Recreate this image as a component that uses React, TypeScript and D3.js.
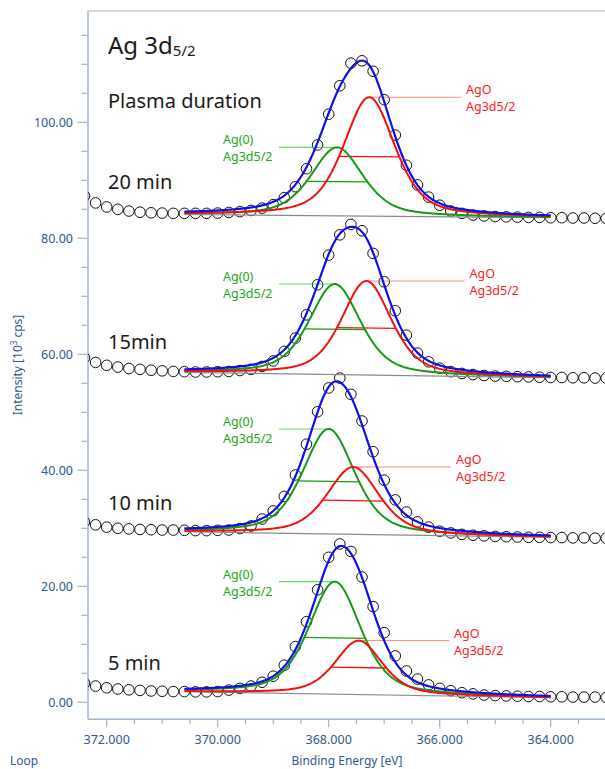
import React from 'react';
import * as d3 from 'd3';

// ---- data ----
const energies = [
  372.4, 372.2, 372.0, 371.8, 371.6, 371.4, 371.2, 371.0, 370.8, 370.6,
  370.4, 370.2, 370.0, 369.8, 369.6, 369.4, 369.2, 369.0, 368.8, 368.6,
  368.4, 368.2, 368.0, 367.8, 367.6, 367.4, 367.2, 367.0, 366.8, 366.6,
  366.4, 366.2, 366.0, 365.8, 365.6, 365.4, 365.2, 365.0, 364.8, 364.6,
  364.4, 364.2, 364.0, 363.8, 363.6, 363.4, 363.2, 363.0,
];

const counts20min = [
  87.3, 86.1, 85.4, 85.0, 84.7, 84.5, 84.4, 84.35, 84.3, 84.3,
  84.3, 84.3, 84.35, 84.45, 84.6, 84.8, 85.2, 85.8, 87.0, 88.9,
  92.0, 96.1, 101.4, 106.3, 110.2, 110.6, 108.8, 103.9, 97.8, 92.6,
  89.2, 87.1, 85.7, 84.7, 84.3, 84.0, 83.85, 83.75, 83.7, 83.65,
  83.6, 83.6, 83.55, 83.55, 83.5, 83.5, 83.45, 83.45,
];
const counts15min = [
  59.4, 58.6, 58.1, 57.8, 57.55, 57.4, 57.25, 57.15, 57.05, 57.0,
  56.95, 56.95, 57.0, 57.05, 57.2, 57.4, 57.9, 58.85, 60.5, 62.8,
  66.8, 72.0, 77.1, 80.6, 82.4, 81.3, 77.4, 72.5, 67.5, 63.3,
  60.2, 58.7, 57.6, 57.0, 56.7, 56.5, 56.35, 56.25, 56.2, 56.15,
  56.1, 56.05, 56.0, 56.0, 55.95, 55.95, 55.9, 55.9,
];
const counts10min = [
  31.1, 30.6, 30.2, 30.0, 29.9, 29.8, 29.75, 29.7, 29.7, 29.65,
  29.6, 29.6, 29.65, 29.7, 29.95, 30.4, 31.6, 33.0, 35.5, 39.2,
  44.5, 50.1, 54.2, 55.9, 53.1, 48.5, 43.2, 38.3, 34.9, 32.8,
  31.1, 30.2, 29.5, 29.2, 28.95, 28.8, 28.7, 28.6, 28.55, 28.5,
  28.45, 28.45, 28.4, 28.4, 28.35, 28.35, 28.3, 28.3,
];
const counts5min = [
  3.3, 2.8, 2.5, 2.3, 2.15, 2.05, 1.95, 1.9, 1.85, 1.85,
  1.8, 1.8, 1.85, 2.1, 2.4, 2.8, 3.45, 4.5, 6.4, 9.6,
  13.9, 19.4, 25.0, 27.3, 26.0, 21.6, 16.5, 12.0, 8.0, 5.4,
  4.0, 3.0, 2.4, 2.0, 1.65, 1.45, 1.25, 1.15, 1.1, 1.05,
  1.0, 1.0, 0.95, 0.95, 0.9, 0.9, 0.9, 0.85,
];
const spectraCounts = [counts20min, counts15min, counts10min, counts5min];
const durationLabels = ['20 min', '15min', '10 min', '5 min'];

const fitRange = [370.6, 364.0];
const bgStart = [84.1, 56.9, 29.41, 1.83];
const bgEnd = [83.55, 55.97, 28.45, 0.8];

const ag0Center = [367.85, 367.89, 368.0, 367.89];
const ag0Height = [11.8, 15.6, 18.1, 19.4];
const ag0Fwhm = [1.1, 1.09, 1.1, 1.1];

const agoCenter = [367.27, 367.32, 367.56, 367.46];
const agoHeight = [20.5, 16.2, 11.6, 9.3];
const agoFwhm = [1.09, 1.06, 1.1, 1.0];

const yMajorTicks = [0, 20, 40, 60, 80, 100];
const yMinorTicks = [5, 10, 15, 25, 30, 35, 45, 50, 55, 65, 70, 75, 85, 90, 95, 105, 110, 115];
const xMajorTicks = [372, 370, 368, 366, 364];
const xMinorTicks = [371.5, 371, 370.5, 369.5, 369, 368.5, 367.5, 367, 366.5, 365.5, 365, 364.5, 363.5];

// ---- layout ----
const W = 605;
const H = 769;
const plotLeft = 88;
const plotTop = 11;
const plotBottom = 719.3;
const x = d3.scaleLinear().domain([372, 364]).range([106.7, 550.7]);
const y = d3.scaleLinear().domain([0, 100]).range([702.3, 122.3]);

const ag0LabelX = 223;
const agoLabelX = [466, 469.5, 456, 454];
const durationOffset = [26, 23, 22, 22];

const axisColor = '#9fb3cc';
const tickTextColor = '#2f5a8a';
const blue = '#1010e6';
const red = '#f51010';
const green = '#179a17';
const greenText = '#20a820';
const redText = '#ff2020';
const font = '"Noto Sans", "Open Sans", sans-serif';

function peak(E: number, c: number, h: number, f: number) {
  const d = (E - c) / f;
  const u = 4 * d * d;
  return h * (0.5 * Math.exp(-Math.LN2 * u) + 0.5 / (1 + u));
}
function bg(E: number, i: number) {
  const t = (fitRange[0] - E) / (fitRange[0] - fitRange[1]);
  return bgStart[i] + (bgEnd[i] - bgStart[i]) * t;
}

const sampleE = d3.range(0, 331).map((j) => fitRange[0] - j * 0.02);

export default function App() {
  const lineE = (fn: (E: number) => number) =>
    d3.line<number>().x((E) => x(E)).y((E) => y(fn(E)))(sampleE) || '';

  return (
    <div style={{ position: 'absolute', left: 0, top: 0, width: W, height: H, background: '#fff' }}>
      <svg width={W} height={H} style={{ display: 'block' }}>
        <defs>
          <clipPath id="plotClip">
            <rect x={plotLeft} y={plotTop} width={W - plotLeft + 10} height={plotBottom - plotTop} />
          </clipPath>
        </defs>

        {/* frame */}
        <line x1={plotLeft} x2={W} y1={plotTop} y2={plotTop} stroke={axisColor} strokeWidth={1.2} />
        <line x1={plotLeft} x2={plotLeft} y1={plotTop} y2={plotBottom} stroke={axisColor} strokeWidth={1.5} />
        <line x1={plotLeft} x2={W} y1={plotBottom} y2={plotBottom} stroke={axisColor} strokeWidth={1.5} />

        {/* y ticks */}
        {yMajorTicks.map((v) => (
          <g key={'ym' + v}>
            <line x1={77.5} x2={87} y1={y(v)} y2={y(v)} stroke={axisColor} strokeWidth={1.2} />
            <text x={73} y={y(v) + 4.5} textAnchor="end" fontSize={12.5} fill={tickTextColor} fontFamily={font}>
              {v.toFixed(2)}
            </text>
          </g>
        ))}
        {yMinorTicks.map((v) => (
          <line key={'yn' + v} x1={81.5} x2={87} y1={y(v)} y2={y(v)} stroke={axisColor} strokeWidth={1.2} />
        ))}

        {/* x ticks */}
        {xMajorTicks.map((v) => (
          <g key={'xm' + v}>
            <line x1={x(v)} x2={x(v)} y1={plotBottom} y2={plotBottom + 8} stroke={axisColor} strokeWidth={1.2} />
            <text x={x(v)} y={744} textAnchor="middle" fontSize={12.5} fill={tickTextColor} fontFamily={font}>
              {v.toFixed(3)}
            </text>
          </g>
        ))}
        {xMinorTicks.map((v) => (
          <line key={'xn' + v} x1={x(v)} x2={x(v)} y1={plotBottom} y2={plotBottom + 5} stroke={axisColor} strokeWidth={1.2} />
        ))}

        {/* axis titles */}
        <text x={347} y={765} textAnchor="middle" fontSize={12} fill={tickTextColor} fontFamily={font}>
          Binding Energy [eV]
        </text>
        <text x={10} y={765} fontSize={12} fill={tickTextColor} fontFamily={font}>
          Loop
        </text>
        <text
          transform={`translate(22, 365) rotate(-90)`}
          textAnchor="middle"
          fontSize={12}
          fill={tickTextColor}
          fontFamily={font}
        >
          Intensity [10
          <tspan dy={-5} fontSize={8}>3</tspan>
          <tspan dy={5}> cps]</tspan>
        </text>

        <g clipPath="url(#plotClip)">
          {/* data circles */}
          {spectraCounts.map((counts, i) =>
            counts.map((v, k) => (
              <circle
                key={`c${i}-${k}`}
                cx={x(energies[k])}
                cy={y(v)}
                r={5.3}
                fill="none"
                stroke="#111"
                strokeWidth={1}
              />
            ))
          )}

          {spectraCounts.map((_, i) => {
            const g = (E: number) => bg(E, i) + peak(E, ag0Center[i], ag0Height[i], ag0Fwhm[i]);
            const r = (E: number) => bg(E, i) + peak(E, agoCenter[i], agoHeight[i], agoFwhm[i]);
            const env = (E: number) =>
              bg(E, i) +
              peak(E, ag0Center[i], ag0Height[i], ag0Fwhm[i]) +
              peak(E, agoCenter[i], agoHeight[i], agoFwhm[i]);
            const gL = ag0Center[i] + ag0Fwhm[i] / 2;
            const gR = ag0Center[i] - ag0Fwhm[i] / 2;
            const rL = agoCenter[i] + agoFwhm[i] / 2;
            const rR = agoCenter[i] - agoFwhm[i] / 2;
            const gTopY = y(bg(ag0Center[i], i) + ag0Height[i]);
            const rTopY = y(bg(agoCenter[i], i) + agoHeight[i]);
            return (
              <g key={'s' + i}>
                <line
                  x1={x(fitRange[0])}
                  x2={x(fitRange[1])}
                  y1={y(bgStart[i])}
                  y2={y(bgEnd[i])}
                  stroke="#8a8a8a"
                  strokeWidth={1.2}
                />
                <line
                  x1={x(gL)}
                  x2={x(gR)}
                  y1={y(bg(gL, i) + ag0Height[i] / 2)}
                  y2={y(bg(gR, i) + ag0Height[i] / 2)}
                  stroke={green}
                  strokeWidth={1.3}
                />
                <line
                  x1={x(rL)}
                  x2={x(rR)}
                  y1={y(bg(rL, i) + agoHeight[i] / 2)}
                  y2={y(bg(rR, i) + agoHeight[i] / 2)}
                  stroke={red}
                  strokeWidth={1.3}
                />
                <line x1={ag0LabelX + 56} x2={x(ag0Center[i])} y1={gTopY} y2={gTopY} stroke="#3fd43f" strokeWidth={1.1} opacity={0.8} />
                <line x1={x(agoCenter[i])} x2={agoLabelX[i] - 5} y1={rTopY} y2={rTopY} stroke="#ff6a6a" strokeWidth={1} opacity={0.8} />
                <path d={lineE(g)} fill="none" stroke={green} strokeWidth={2} />
                <path d={lineE(r)} fill="none" stroke={red} strokeWidth={2} />
                <path d={lineE(env)} fill="none" stroke={blue} strokeWidth={2.2} />
              </g>
            );
          })}
        </g>

        {/* labels */}
        {spectraCounts.map((_, i) => {
          const gTopY = y(bg(ag0Center[i], i) + ag0Height[i]);
          const rTopY = y(bg(agoCenter[i], i) + agoHeight[i]);
          return (
            <g key={'l' + i} fontFamily={font} fontSize={12.5}>
              <text x={ag0LabelX} y={gTopY - 3} fill={greenText}>Ag(0)</text>
              <text x={ag0LabelX} y={gTopY + 14} fill={greenText}>Ag3d5/2</text>
              <text x={agoLabelX[i]} y={rTopY - 3} fill={redText}>AgO</text>
              <text x={agoLabelX[i]} y={rTopY + 14} fill={redText}>Ag3d5/2</text>
              <text x={108} y={y(bgStart[i]) - durationOffset[i]} fontSize={20} fill="#1a1a1a">
                {durationLabels[i]}
              </text>
            </g>
          );
        })}

        <text x={108} y={54} fontSize={24} fill="#1a1a1a" fontFamily={font}>
          Ag 3d<tspan fontSize={15} dy={2}>5/2</tspan>
        </text>
        <text x={108} y={107.7} fontSize={20} fill="#1a1a1a" fontFamily={font}>
          Plasma duration
        </text>
      </svg>
    </div>
  );
}
